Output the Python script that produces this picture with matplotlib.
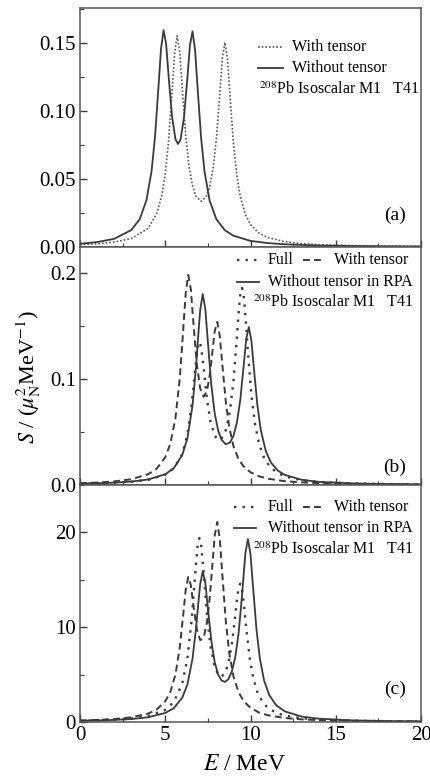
# -*- coding: utf-8 -*-
"""
208Pb isoscalar M1 strength, T41 : three stacked panels (a), (b), (c)
"""
import matplotlib
matplotlib.use('Agg')
import matplotlib.pyplot as plt
from matplotlib.lines import Line2D
from matplotlib.ticker import MultipleLocator, FormatStrFormatter

plt.rcParams['font.family'] = ['Liberation Serif', 'DejaVu Serif']
plt.rcParams['mathtext.fontset'] = 'stix'

# ---------------- panel (a) ----------------
a_sol_E = [0, 1, 2, 3, 3.5, 3.9, 4.2, 4.4, 4.6, 4.75, 4.9, 5.05, 5.2, 5.4, 5.6, 5.75,
           5.9, 6.1, 6.3, 6.45, 6.6, 6.75, 6.9, 7.1, 7.3, 7.6, 8.0, 8.5, 9, 10, 11,
           12, 14, 16, 18, 20]
a_sol_S = [0.0024, 0.0036, 0.0060, 0.0124, 0.0204, 0.0345, 0.0561, 0.0812, 0.1174,
           0.1458, 0.1597, 0.1496, 0.1254, 0.0958, 0.0794, 0.0758, 0.0793, 0.0954,
           0.1247, 0.1487, 0.1588, 0.1449, 0.1167, 0.0808, 0.0559, 0.0343, 0.0204,
           0.0123, 0.0083, 0.0045, 0.0029, 0.0020, 0.0011, 0.0007, 0.0005, 0.0004]

a_dot_E = [0, 1, 2, 3, 4, 4.5, 4.8, 5.0, 5.2, 5.4, 5.55, 5.7, 5.85, 6.0, 6.2, 6.4,
           6.6, 6.8, 7.1, 7.4, 7.6, 7.8, 8.0, 8.2, 8.35, 8.5, 8.65, 8.8, 9.0, 9.2,
           9.4, 9.7, 10, 10.5, 11, 12, 13, 14, 16, 18, 20]
a_dot_S = [0.0017, 0.0023, 0.0036, 0.0062, 0.0138, 0.0246, 0.0382, 0.0539, 0.0788,
           0.1147, 0.1426, 0.1555, 0.1435, 0.1166, 0.0821, 0.0589, 0.0451, 0.0374,
           0.0336, 0.0370, 0.0442, 0.0574, 0.0798, 0.1131, 0.1391, 0.1507, 0.1381,
           0.1111, 0.0764, 0.0523, 0.0372, 0.0239, 0.0166, 0.0102, 0.0070, 0.0039,
           0.0025, 0.0017, 0.0010, 0.0007, 0.0005]

# ---------------- panel (b) ----------------
b_sol_E = [0, 1, 2, 3, 4, 5, 5.5, 6, 6.3, 6.6, 6.8, 6.95, 7.05, 7.2, 7.35, 7.5, 7.7,
           7.9, 8.1, 8.3, 8.55, 8.8, 9.0, 9.2, 9.4, 9.6, 9.75, 9.9, 10.05, 10.2,
           10.4, 10.6, 10.9, 11.2, 11.6, 12, 13, 14, 16, 18, 20]
b_sol_S = [0.0012, 0.0016, 0.0022, 0.0032, 0.0052, 0.0101, 0.0158, 0.0283, 0.0441,
           0.0751, 0.1105, 0.1442, 0.1651, 0.1801, 0.1661, 0.1348, 0.0947, 0.0677,
           0.0516, 0.0427, 0.0384, 0.0401, 0.0463, 0.0587, 0.0802, 0.1126, 0.1378,
           0.1490, 0.1365, 0.1100, 0.0758, 0.0521, 0.0318, 0.0212, 0.0136, 0.0096,
           0.0049, 0.0030, 0.0015, 0.0009, 0.0006]

b_dash_E = [0, 1, 2, 3, 4, 4.5, 5, 5.3, 5.6, 5.85, 6.05, 6.2, 6.35, 6.5, 6.65, 6.85,
            7.05, 7.25, 7.45, 7.6, 7.75, 7.9, 8.05, 8.2, 8.35, 8.55, 8.75, 9, 9.3,
            9.6, 10, 10.5, 11, 12, 13, 14, 16, 18, 20]
b_dash_S = [0.0017, 0.0023, 0.0034, 0.0054, 0.0102, 0.0154, 0.0262, 0.0390, 0.0632,
            0.1003, 0.1456, 0.1810, 0.1981, 0.1846, 0.1531, 0.1141, 0.0910, 0.0832,
            0.0890, 0.1026, 0.1233, 0.1451, 0.1539, 0.1402, 0.1132, 0.0787, 0.0548,
            0.0366, 0.0244, 0.0174, 0.0120, 0.0082, 0.0060, 0.0036, 0.0025, 0.0018,
            0.0011, 0.0007, 0.0005]

b_dot_E = [0, 1, 2, 3, 4, 5, 5.5, 6, 6.3, 6.55, 6.75, 6.9, 7.0, 7.1, 7.25, 7.45,
           7.65, 7.9, 8.15, 8.4, 8.6, 8.8, 9.0, 9.15, 9.3, 9.4, 9.5, 9.6, 9.7, 9.85,
           10.05, 10.25, 10.5, 10.8, 11.1, 11.5, 12, 13, 14, 16, 18, 20]
b_dot_S = [0.0012, 0.0015, 0.0021, 0.0030, 0.0049, 0.0097, 0.0156, 0.0292, 0.0476,
           0.0758, 0.1082, 0.1296, 0.1350, 0.1306, 0.1109, 0.0809, 0.0599, 0.0463,
           0.0422, 0.0455, 0.0541, 0.0704, 0.0980, 0.1281, 0.1618, 0.1793, 0.1859,
           0.1786, 0.1603, 0.1253, 0.0853, 0.0587, 0.0388, 0.0255, 0.0180, 0.0122,
           0.0082, 0.0045, 0.0029, 0.0015, 0.0009, 0.0006]

# ---------------- panel (c) ----------------
c_sol_E = [0, 1, 2, 3, 4, 5, 5.5, 6, 6.3, 6.6, 6.8, 6.95, 7.05, 7.2, 7.35, 7.5, 7.7,
           7.9, 8.1, 8.3, 8.5, 8.7, 8.9, 9.1, 9.3, 9.5, 9.7, 9.85, 10.0, 10.15,
           10.35, 10.55, 10.8, 11.1, 11.5, 12, 13, 14, 16, 18, 20]
c_sol_S = [0.12, 0.16, 0.22, 0.31, 0.50, 0.95, 1.46, 2.57, 3.96, 6.69, 9.79, 12.74,
           14.56, 15.90, 14.70, 12.02, 8.59, 6.31, 5.02, 4.38, 4.23, 4.51, 5.29, 6.77,
           9.32, 13.29, 17.81, 19.30, 17.69, 14.23, 9.77, 6.68, 4.36, 2.84, 1.78,
           1.13, 0.57, 0.35, 0.17, 0.10, 0.07]

c_dash_E = b_dash_E
c_dash_S = [0.16, 0.22, 0.31, 0.49, 0.89, 1.32, 2.18, 3.17, 5.02, 7.83, 11.25, 13.93,
            15.29, 14.45, 12.33, 9.81, 8.63, 8.86, 10.55, 12.95, 16.26, 19.64, 21.10,
            19.28, 15.51, 10.68, 7.33, 4.81, 3.14, 2.20, 1.49, 1.00, 0.72, 0.42,
            0.28, 0.20, 0.12, 0.08, 0.05]

c_dot_E = [0, 1, 2, 3, 4, 5, 5.5, 6, 6.3, 6.55, 6.75, 6.9, 7.0, 7.1, 7.25, 7.45,
           7.65, 7.9, 8.1, 8.3, 8.5, 8.7, 8.9, 9.05, 9.2, 9.3, 9.4, 9.5, 9.6, 9.75,
           9.95, 10.15, 10.4, 10.7, 11, 11.5, 12, 13, 14, 16, 18, 20]
c_dot_S = [0.14, 0.18, 0.25, 0.37, 0.63, 1.28, 2.11, 4.06, 6.71, 10.81, 15.53, 18.63,
           19.40, 18.72, 15.77, 11.25, 8.04, 5.82, 5.00, 4.79, 5.14, 6.17, 8.13,
           10.33, 12.84, 14.14, 14.60, 14.01, 12.58, 9.88, 6.78, 4.72, 3.16, 2.12,
           1.52, 0.97, 0.68, 0.39, 0.26, 0.14, 0.09, 0.06]

col = '#3a3a3a'
sty_sol = dict(color=col, lw=1.3, linestyle='-')
sty_fine = dict(color='#555555', lw=1.2, linestyle=(0, (1, 1.2)))
sty_dot = dict(color=col, lw=1.7, linestyle=(0, (1, 2.6)))
sty_dash = dict(color=col, lw=1.4, linestyle=(0, (3.5, 2.2)))

fig = plt.figure(figsize=(4.3, 7.76), dpi=100)
L, W = 80 / 430, 341 / 430
ax_a = fig.add_axes([L, 1 - 247 / 776, W, 239 / 776])
ax_b = fig.add_axes([L, 1 - 485 / 776, W, 238 / 776], sharex=ax_a)
ax_c = fig.add_axes([L, 1 - 722 / 776, W, 237 / 776], sharex=ax_a)

ax_a.plot(a_dot_E, a_dot_S, **sty_fine)
ax_a.plot(a_sol_E, a_sol_S, **sty_sol)
ax_b.plot(b_dot_E, b_dot_S, **sty_dot)
ax_b.plot(b_dash_E, b_dash_S, **sty_dash)
ax_b.plot(b_sol_E, b_sol_S, **sty_sol)
ax_c.plot(c_dot_E, c_dot_S, **sty_dot)
ax_c.plot(c_dash_E, c_dash_S, **sty_dash)
ax_c.plot(c_sol_E, c_sol_S, **sty_sol)

ax_a.set_ylim(0, 0.176)
ax_b.set_ylim(0, 0.2245)
ax_c.set_ylim(0, 25)
ax_c.set_xlim(0, 20)

ax_a.yaxis.set_major_locator(MultipleLocator(0.05))
ax_a.yaxis.set_minor_locator(MultipleLocator(0.025))
ax_a.yaxis.set_major_formatter(FormatStrFormatter('%.2f'))
ax_b.yaxis.set_major_locator(MultipleLocator(0.1))
ax_b.yaxis.set_minor_locator(MultipleLocator(0.05))
ax_b.yaxis.set_major_formatter(FormatStrFormatter('%.1f'))
ax_c.yaxis.set_major_locator(MultipleLocator(10))
ax_c.yaxis.set_minor_locator(MultipleLocator(5))
ax_c.xaxis.set_major_locator(MultipleLocator(5))
ax_c.xaxis.set_minor_locator(MultipleLocator(2.5))

for ax in (ax_a, ax_b, ax_c):
    ax.tick_params(which='both', direction='in', top=False, right=False,
                   labelsize=15, pad=3, color=col)
    ax.tick_params(which='major', length=5, width=1)
    ax.tick_params(which='minor', length=3, width=0.8)
    for sp in ax.spines.values():
        sp.set_color('#555555')
        sp.set_linewidth(1.1)
for ax in (ax_a, ax_b):
    ax.tick_params(labelbottom=False)


def handle(ax, x0, x1, y, sty):
    ax.add_line(Line2D([x0, x1], [y, y], transform=ax.transAxes, **sty))


fs = 11.5
# legend (a)
handle(ax_a, 0.522, 0.595, 0.838, sty_fine)
ax_a.text(0.622, 0.838, 'With tensor', transform=ax_a.transAxes, va='center', fontsize=fs)
handle(ax_a, 0.522, 0.595, 0.748, sty_sol)
ax_a.text(0.622, 0.748, 'Without tensor', transform=ax_a.transAxes, va='center', fontsize=fs)
ax_a.text(0.525, 0.66, r'$^{208}$Pb Isoscalar M1   T41', transform=ax_a.transAxes,
          va='center', fontsize=fs)
ax_a.text(0.955, 0.134, '(a)', transform=ax_a.transAxes, ha='right', va='center', fontsize=14)

# legend (b) and (c)
for ax, rows, xs in ((ax_b, (0.945, 0.854, 0.765), 0.460),
                     (ax_c, (0.908, 0.819, 0.726), 0.452)):
    handle(ax, xs, xs + 0.072, rows[0], sty_dot)
    ax.text(0.550, rows[0], 'Full', transform=ax.transAxes, va='center', fontsize=fs)
    handle(ax, 0.655, 0.708, rows[0], sty_dash)
    ax.text(0.745, rows[0], 'With tensor', transform=ax.transAxes, va='center', fontsize=fs)
    handle(ax, xs, xs + 0.065, rows[1], sty_sol)
    ax.text(0.550, rows[1], 'Without tensor in RPA', transform=ax.transAxes,
            va='center', fontsize=fs)
    ax.text(0.508, rows[2], r'$^{208}$Pb Isoscalar M1   T41', transform=ax.transAxes,
            va='center', fontsize=fs)
ax_b.text(0.955, 0.075, '(b)', transform=ax_b.transAxes, ha='right', va='center', fontsize=14)
ax_c.text(0.955, 0.137, '(c)', transform=ax_c.transAxes, ha='right', va='center', fontsize=14)

fig.text(29 / 430, 1 - 377 / 776, r'$S$ / ($\mu_{\rm N}^{2}$MeV$^{-1}$)',
         rotation=90, ha='center', va='center', fontsize=16)
fig.text(245 / 430, 1 - 765 / 776, r'$E$ / MeV', ha='center', va='center', fontsize=17)

fig.savefig('out.png', dpi=100)
